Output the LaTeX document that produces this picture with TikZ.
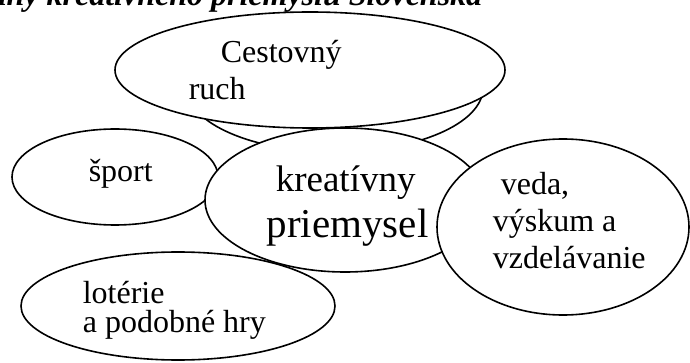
\documentclass[tikz,border=0pt]{standalone}
\usepackage{fontspec}
\setmainfont{Liberation Serif}
\newfontfamily\bublina{Liberation Serif}
\begin{document}
\begin{tikzpicture}[x=1pt, y=-1pt, line width=1.6pt,
    bubble/.style={draw, fill=white},
    txt/.style={anchor=base west, inner sep=0pt, font=\bublina\fontsize{32}{38}\selectfont}]
  \useasboundingbox (0,0) rectangle (690,363);
  \clip (0,0) rectangle (690,363);
  % nadpis, zhora orezany
  \node[anchor=base east, inner sep=0pt, font=\bublina\fontsize{32}{38}\selectfont\bfseries\itshape] (nadpis) at (483,6) {Presahy kreatívneho priemyslu Slovenska};
  % bubliny
  \draw[bubble] (335,88) ellipse (148 and 64);
  \draw[bubble] (310,70) ellipse (195 and 58);
  \draw[bubble] (115,177) ellipse (103 and 48);
  \draw[bubble] (345,200) ellipse (140 and 72);
  \draw[bubble] (178,306) ellipse (157 and 54);
  \draw[bubble] (563,227) ellipse (126 and 88);
  % texty
  \node[txt] (cestovny) at (220,63) {Cestovný};
  \node[txt] (ruch) at (188,100) {ruch};
  \node[txt] (sport) at (88,182) {šport};
  \node[txt, font=\bublina\fontsize{37}{44}\selectfont] (kreativny) at (275,192) {kreatívny};
  \node[txt, font=\bublina\fontsize{41}{48}\selectfont] (priemysel) at (266,238) {priemysel};
  \node[txt] (veda) at (500,195) {veda,};
  \node[txt] (vyskum) at (492,232) {výskum a};
  \node[txt] (vzdelavanie) at (492,268) {vzdelávanie};
  \node[txt] (loterie) at (82,303) {lotérie};
  \node[txt] (hry) at (82,332) {a podobné hry};
\end{tikzpicture}
\end{document}
